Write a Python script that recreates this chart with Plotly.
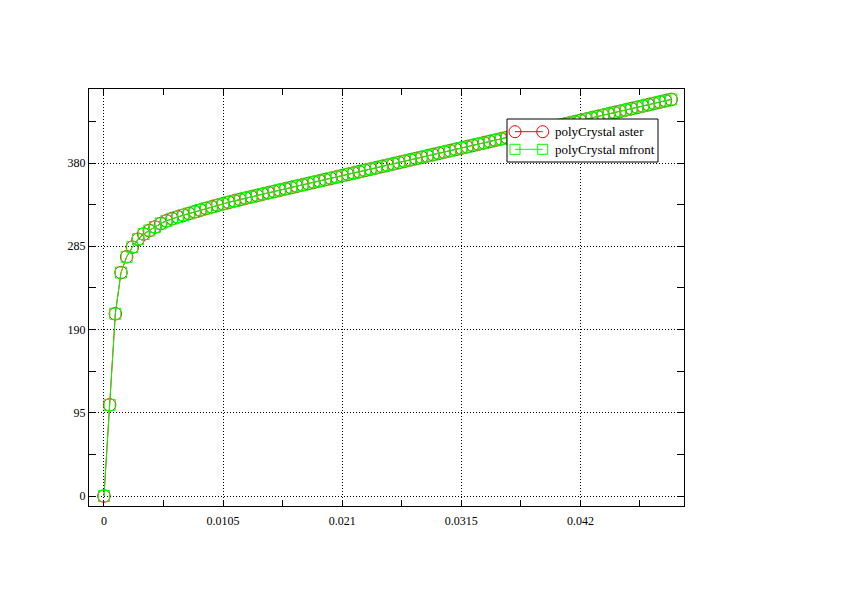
import plotly.graph_objects as go

# ---- data ----
strain = [
    0.0, 0.0005, 0.001, 0.0015, 0.002, 0.0025, 0.003, 0.0035, 0.004, 0.0045,
    0.005, 0.0055, 0.006, 0.0065, 0.007, 0.0075, 0.008, 0.0085, 0.009, 0.0095,
    0.01, 0.0105, 0.011, 0.0115, 0.012, 0.0125, 0.013, 0.0135, 0.014, 0.0145,
    0.015, 0.0155, 0.016, 0.0165, 0.017, 0.0175, 0.018, 0.0185, 0.019, 0.0195,
    0.02, 0.0205, 0.021, 0.0215, 0.022, 0.0225, 0.023, 0.0235, 0.024, 0.0245,
    0.025, 0.0255, 0.026, 0.0265, 0.027, 0.0275, 0.028, 0.0285, 0.029, 0.0295,
    0.03, 0.0305, 0.031, 0.0315, 0.032, 0.0325, 0.033, 0.0335, 0.034, 0.0345,
    0.035, 0.0355, 0.036, 0.0365, 0.037, 0.0375, 0.038, 0.0385, 0.039, 0.0395,
    0.04, 0.0405, 0.041, 0.0415, 0.042, 0.0425, 0.043, 0.0435, 0.044, 0.0445,
    0.045, 0.0455, 0.046, 0.0465, 0.047, 0.0475, 0.048, 0.0485, 0.049, 0.0495,
    0.05,
]

stress_aster = [
    0.0, 104.0, 208.0, 255.0, 273.0, 284.0, 293.0, 299.0, 303.0, 307.0,
    311.0, 314.0, 316.5, 318.5, 320.5, 322.4, 324.4, 326.3, 328.2, 330.0,
    331.8, 333.5, 335.2, 336.8, 338.4, 340.0, 341.5, 343.0, 344.6, 346.1,
    347.6, 349.1, 350.6, 352.1, 353.6, 355.1, 356.6, 358.1, 359.6, 361.1,
    362.6, 364.1, 365.6, 367.1, 368.6, 370.1, 371.6, 373.1, 374.6, 376.1,
    377.6, 379.1, 380.6, 382.1, 383.6, 385.1, 386.6, 388.1, 389.6, 391.1,
    392.6, 394.1, 395.6, 397.1, 398.6, 400.1, 401.6, 403.1, 404.6, 406.1,
    407.6, 409.1, 410.6, 412.1, 413.6, 415.1, 416.6, 418.1, 419.6, 421.1,
    422.6, 424.1, 425.6, 427.1, 428.6, 430.1, 431.6, 433.1, 434.6, 436.1,
    437.6, 439.1, 440.6, 442.1, 443.6, 445.1, 446.6, 448.1, 449.6, 451.1,
    452.6,
]

stress_mfront = [
    0.0, 104.0, 208.0, 255.0, 273.0, 284.0, 293.0, 299.0, 303.0, 307.0,
    311.0, 314.0, 316.5, 318.5, 320.5, 322.4, 324.4, 326.3, 328.2, 330.0,
    331.8, 333.5, 335.2, 336.8, 338.4, 340.0, 341.5, 343.0, 344.6, 346.1,
    347.6, 349.1, 350.6, 352.1, 353.6, 355.1, 356.6, 358.1, 359.6, 361.1,
    362.6, 364.1, 365.6, 367.1, 368.6, 370.1, 371.6, 373.1, 374.6, 376.1,
    377.6, 379.1, 380.6, 382.1, 383.6, 385.1, 386.6, 388.1, 389.6, 391.1,
    392.6, 394.1, 395.6, 397.1, 398.6, 400.1, 401.6, 403.1, 404.6, 406.1,
    407.6, 409.1, 410.6, 412.1, 413.6, 415.1, 416.6, 418.1, 419.6, 421.1,
    422.6, 424.1, 425.6, 427.1, 428.6, 430.1, 431.6, 433.1, 434.6, 436.1,
    437.6, 439.1, 440.6, 442.1, 443.6, 445.1, 446.6, 448.1, 449.6, 451.1,
    452.6,
]

series_names = ["polyCrystal aster", "polyCrystal mfront"]
x_tick_vals = [0, 0.0105, 0.021, 0.0315, 0.042]
x_tick_text = ["0", "0.0105", "0.021", "0.0315", "0.042"]
y_tick_vals = [0, 95, 190, 285, 380]
y_tick_text = ["0", "95", "190", "285", "380"]

RED = "#ff0000"
GREEN = "#00ff00"
FONT = "Liberation Serif"

fig = go.Figure()
fig.add_trace(go.Scatter(
    x=strain, y=stress_aster, mode="lines+markers", name=series_names[0],
    line=dict(color=RED, width=1),
    marker=dict(symbol="circle-open", size=12.5, color=RED, line=dict(width=1, color=RED)),
    showlegend=False,
))
fig.add_trace(go.Scatter(
    x=strain, y=stress_mfront, mode="lines+markers", name=series_names[1],
    line=dict(color=GREEN, width=1),
    marker=dict(symbol="square-open", size=11, color=GREEN, line=dict(width=1, color=GREEN)),
    showlegend=False,
))

grid_dash = "1px,2px"
fig.update_xaxes(
    range=[-0.00132, 0.05113], tickmode="array", tickvals=x_tick_vals, ticktext=x_tick_text,
    showline=True, linecolor="black", linewidth=1, mirror="allticks",
    ticks="inside", ticklen=0, tickcolor="black", ticklabelstandoff=4,
    showgrid=True, gridcolor="black", gridwidth=1, griddash=grid_dash,
    zeroline=False,
    tickfont=dict(family=FONT, size=12, color="black"),
    minor=dict(dtick=0.00525, tick0=0, ticks="inside", ticklen=6, tickcolor="black",
               tickwidth=1, showgrid=False),
)
fig.update_yaxes(
    range=[-11.4, 464.5], tickmode="array", tickvals=y_tick_vals, ticktext=y_tick_text,
    showline=True, linecolor="black", linewidth=1, mirror="allticks",
    ticks="inside", ticklen=0, tickcolor="black",
    showgrid=True, gridcolor="black", gridwidth=1, griddash=grid_dash,
    zeroline=False,
    tickfont=dict(family=FONT, size=12, color="black"),
    minor=dict(dtick=47.5, tick0=0, ticks="inside", ticklen=7, tickcolor="black",
               tickwidth=1, showgrid=False),
)

# ---- gnuplot-style legend box (paper coordinates) ----
W_PLOT, H_PLOT = 595.0, 417.0
def px(v):
    return (v - 89) / W_PLOT
def py(v):
    return (506 - v) / H_PLOT

shapes = []
shapes.append(dict(type="rect", xref="paper", yref="paper", layer="above",
                   x0=px(507), x1=px(658), y0=py(162), y1=py(119),
                   line=dict(color="black", width=1), fillcolor="white"))
rows = [131.7, 149.3]
colors = [RED, GREEN]
for i, (ry, col) in enumerate(zip(rows, colors)):
    shapes.append(dict(type="line", xref="paper", yref="paper", layer="above",
                       x0=px(515), x1=px(542.7), y0=py(ry), y1=py(ry),
                       line=dict(color=col, width=1)))
    for cx in (515, 542.7):
        if i == 0:
            r = 6.0
            shapes.append(dict(type="circle", xref="paper", yref="paper", layer="above",
                               x0=px(cx - r), x1=px(cx + r), y0=py(ry + r), y1=py(ry - r),
                               line=dict(color=col, width=1)))
        else:
            h = 5.0
            shapes.append(dict(type="rect", xref="paper", yref="paper", layer="above",
                               x0=px(cx - h), x1=px(cx + h), y0=py(ry + h), y1=py(ry - h),
                               line=dict(color=col, width=1)))

annotations = []
for name, ry in zip(series_names, rows):
    annotations.append(dict(xref="paper", yref="paper", x=px(553), y=py(ry),
                            xanchor="left", yanchor="middle", showarrow=False,
                            text=name, font=dict(family=FONT, size=13, color="black")))

# The page body adds an 8 px offset; margins compensate so the frame lands at 89..684 x 89..506.
fig.update_layout(
    width=842, height=595,
    margin=dict(l=81, r=166, t=81, b=97),
    paper_bgcolor="white", plot_bgcolor="white",
    shapes=shapes, annotations=annotations,
    showlegend=False,
    font=dict(family=FONT, size=12, color="black"),
)

fig.write_html("out.html")
